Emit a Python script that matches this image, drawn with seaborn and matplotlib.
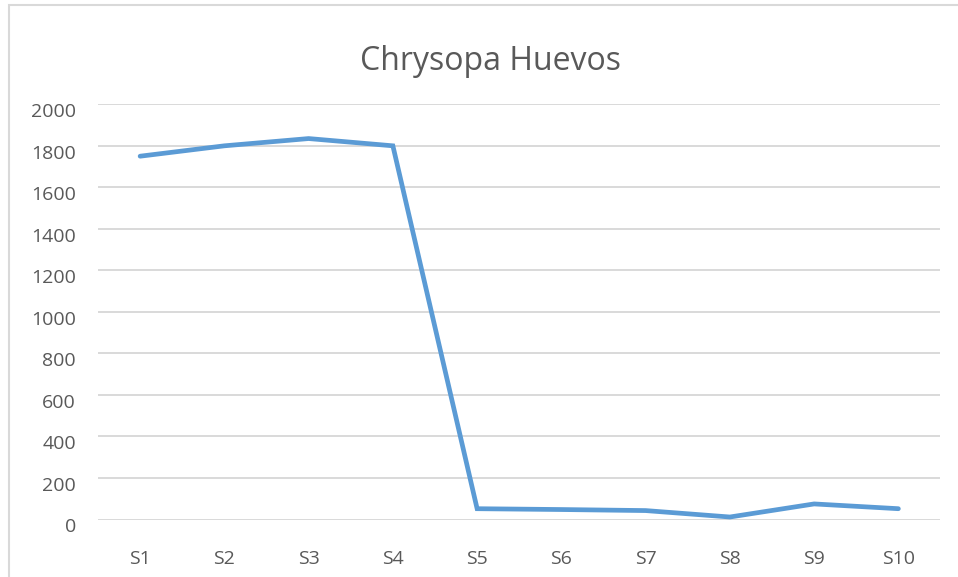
import numpy as np
import pandas as pd
import matplotlib
matplotlib.use("Agg")
import matplotlib.pyplot as plt
import matplotlib.transforms as mtransforms
from matplotlib.patches import Rectangle
import seaborn as sns

# ─── Données ────────────────────────────────────────────────────────────────
muestras = ["S1", "S2", "S3", "S4", "S5", "S6", "S7", "S8", "S9", "S10"]
huevos = [1750, 1800, 1835, 1800, 52, 48, 43, 12, 75, 52]
y_ticks = [0, 200, 400, 600, 800, 1000, 1200, 1400, 1600, 1800, 2000]

df = pd.DataFrame({"muestra": muestras, "huevos": huevos})

# ─── Style ──────────────────────────────────────────────────────────────────
sns.set_style("white")
plt.rcParams["font.family"] = ["Open Sans", "DejaVu Sans"]

W, H = 958, 577
fig = plt.figure(figsize=(W / 100, H / 100), dpi=100)
ax = fig.add_axes([98 / W, 1 - 519.5 / H, (940.5 - 98) / W, (519.5 - 104.3) / H])

sns.lineplot(data=df, x="muestra", y="huevos", ax=ax, sort=False,
             color="#5B9BD5", lw=3.4, solid_joinstyle="miter")

ax.set_xlim(-0.5, len(muestras) - 0.5)
ax.set_ylim(0, 2000)
ax.set_yticks(y_ticks)
ax.set_yticklabels([str(v) for v in y_ticks])
ax.set_xlabel("")
ax.set_ylabel("")

ax.grid(axis="y", color="#D9D9D9", lw=1.4)
ax.set_axisbelow(True)
for s in ax.spines.values():
    s.set_visible(False)

ax.tick_params(axis="y", length=0, pad=16, labelsize=14, labelcolor="#595959")
ax.tick_params(axis="x", length=0, pad=22, labelsize=14, labelcolor="#595959")

# Excel décale un peu les étiquettes vers le bas
off = mtransforms.ScaledTranslation(0, -6 / 100, fig.dpi_scale_trans)
for lbl in ax.get_yticklabels():
    lbl.set_transform(lbl.get_transform() + off)

fig.text(490 / W, 1 - 61 / H, "Chrysopa Huevos", ha="center", va="center",
         fontsize=23, color="#595959")

# cadre du graphique
fig.patches.append(Rectangle((9 / W, -0.05), 1.0, 1 - 5 / H + 0.05,
                             transform=fig.transFigure, fill=False,
                             edgecolor="#D9D9D9", lw=1.5))

fig.savefig("out.png", dpi=100, facecolor="white")
